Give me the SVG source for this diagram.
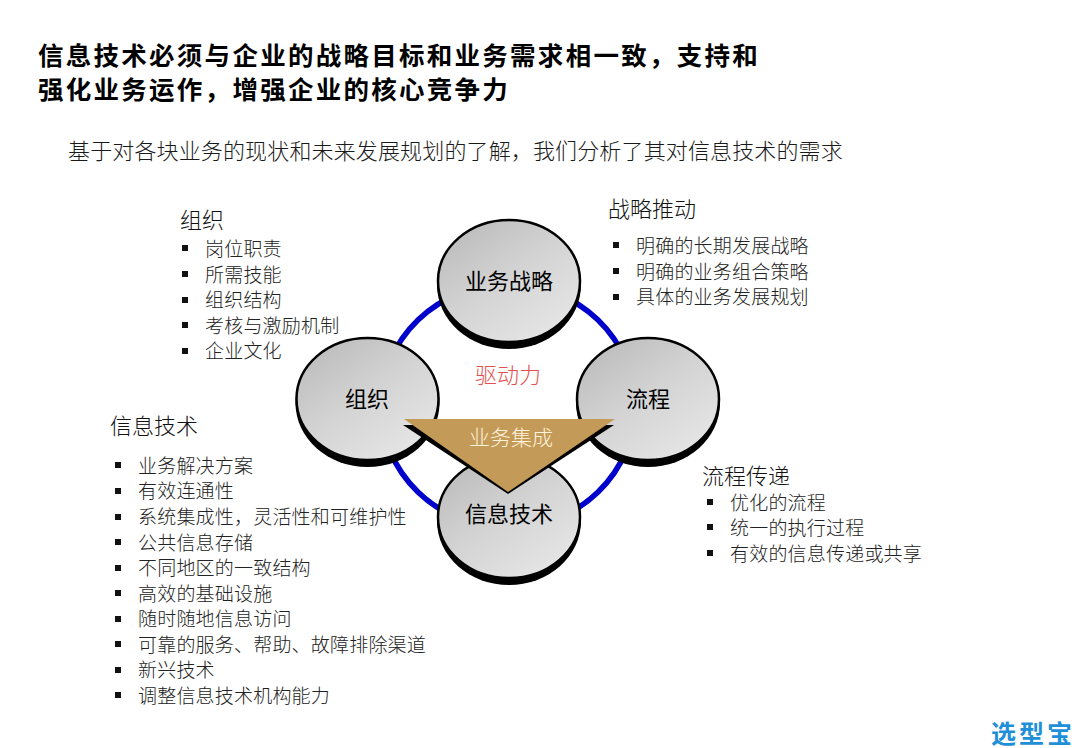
<svg xmlns="http://www.w3.org/2000/svg" width="1080" height="748" viewBox="0 0 1080 748">
<style>
text{font-family:"Noto Sans CJK SC","Noto Sans",sans-serif;}
.t{font-size:25.500px;font-weight:700;fill:#000;letter-spacing:2.27px}
.s{font-size:22px;fill:#1a1a1a;font-weight:300;letter-spacing:.14px}
.h{font-size:22px;fill:#111;font-weight:300}
.b{font-size:19px;fill:#222;font-weight:300;letter-spacing:.2px;transform:translateY(1px)}
.n{font-size:22px;fill:#000;text-anchor:middle;font-weight:400}
.sq{fill:#111}
.c{fill:url(#g);stroke:#000;stroke-width:2.5}
.sh{fill:#000}
</style>
<defs>
<linearGradient id="g" x1="0.15" y1="0.1" x2="0.8" y2="0.9"><stop offset="0" stop-color="#bebebe"/><stop offset="0.5" stop-color="#d4d4d4"/><stop offset="1" stop-color="#e4e4e4"/></linearGradient>
</defs>
<rect width="1080" height="748" fill="#fff"/>
<text class="t" x="38" y="65">信息技术必须与企业的战略目标和业务需求相一致，支持和</text>
<text class="t" x="38" y="99">强化业务运作，增强企业的核心竞争力</text>
<text class="s" x="68" y="159">基于对各块业务的现状和未来发展规划的了解，我们分析了其对信息技术的需求</text>
<g id="connectors"><ellipse cx="508" cy="406" rx="127" ry="122" fill="none" stroke="#0000cc" stroke-width="5.5"/></g>
<g id="node-strategy"><ellipse class="sh" cx="509" cy="285" rx="72" ry="64"/><ellipse class="c" cx="509" cy="281" rx="71" ry="61"/><text class="n" x="509" y="289">业务战略</text></g>
<g id="node-org"><ellipse class="sh" cx="367.500" cy="403" rx="72" ry="64"/><ellipse class="c" cx="367.500" cy="399" rx="71" ry="61"/><text class="n" x="367" y="407">组织</text></g>
<g id="node-process"><ellipse class="sh" cx="648" cy="403" rx="72" ry="64"/><ellipse class="c" cx="648" cy="399" rx="71" ry="61"/><text class="n" x="648" y="407">流程</text></g>
<g id="node-it"><ellipse class="sh" cx="509" cy="521" rx="72" ry="64"/><ellipse class="c" cx="509" cy="517" rx="71" ry="61"/><text class="n" x="509" y="522">信息技术</text></g>
<g id="node-integration">
<polygon points="403,425 614,425 508,494" fill="#000"/>
<polygon points="404,419 615,419 508,492" fill="#c49a58"/>
<text x="511" y="445" font-size="21" fill="#fff3dc" text-anchor="middle" font-weight="300">业务集成</text></g>
<text id="driver" x="508" y="383" font-size="22" fill="#e45050" text-anchor="middle" font-weight="300">驱动力</text>
<g id="list-org">
<text class="h" x="180" y="228">组织</text>
<rect class="sq" x="182" y="245" width="6" height="6"/><text class="b" x="205" y="255">岗位职责</text>
<rect class="sq" x="182" y="271" width="6" height="6"/><text class="b" x="205" y="281">所需技能</text>
<rect class="sq" x="182" y="297" width="6" height="6"/><text class="b" x="205" y="306">组织结构</text>
<rect class="sq" x="182" y="322" width="6" height="6"/><text class="b" x="205" y="332">考核与激励机制</text>
<rect class="sq" x="182" y="348" width="6" height="6"/><text class="b" x="205" y="357">企业文化</text>
</g>
<g id="list-strategy">
<text class="h" x="608" y="217">战略推动</text>
<rect class="sq" x="613" y="242" width="6" height="6"/><text class="b" x="636" y="252">明确的长期发展战略</text>
<rect class="sq" x="613" y="268" width="6" height="6"/><text class="b" x="636" y="278">明确的业务组合策略</text>
<rect class="sq" x="613" y="294" width="6" height="6"/><text class="b" x="636" y="303">具体的业务发展规划</text>
</g>
<g id="list-process">
<text class="h" x="702" y="484">流程传递</text>
<rect class="sq" x="707" y="499" width="6" height="6"/><text class="b" x="730" y="509">优化的流程</text>
<rect class="sq" x="707" y="524" width="6" height="6"/><text class="b" x="730" y="534">统一的执行过程</text>
<rect class="sq" x="707" y="550" width="6" height="6"/><text class="b" x="730" y="560">有效的信息传递或共享</text>
</g>
<g id="list-it">
<text class="h" x="110" y="434">信息技术</text>
<rect class="sq" x="115" y="462" width="6" height="6"/><text class="b" x="138" y="472">业务解决方案</text>
<rect class="sq" x="115" y="488" width="6" height="6"/><text class="b" x="138" y="497">有效连通性</text>
<rect class="sq" x="115" y="514" width="6" height="6"/><text class="b" x="138" y="523">系统集成性，灵活性和可维护性</text>
<rect class="sq" x="115" y="539" width="6" height="6"/><text class="b" x="138" y="549">公共信息存储</text>
<rect class="sq" x="115" y="565" width="6" height="6"/><text class="b" x="138" y="574">不同地区的一致结构</text>
<rect class="sq" x="115" y="590" width="6" height="6"/><text class="b" x="138" y="600">高效的基础设施</text>
<rect class="sq" x="115" y="616" width="6" height="6"/><text class="b" x="138" y="625">随时随地信息访问</text>
<rect class="sq" x="115" y="641" width="6" height="6"/><text class="b" x="138" y="651">可靠的服务、帮助、故障排除渠道</text>
<rect class="sq" x="115" y="667" width="6" height="6"/><text class="b" x="138" y="676">新兴技术</text>
<rect class="sq" x="115" y="692" width="6" height="6"/><text class="b" x="138" y="702">调整信息技术机构能力</text>
</g>
<text id="watermark" x="991" y="743" font-size="25" font-weight="700" fill="#1f8fd8" letter-spacing="3">选型宝</text>
</svg>
